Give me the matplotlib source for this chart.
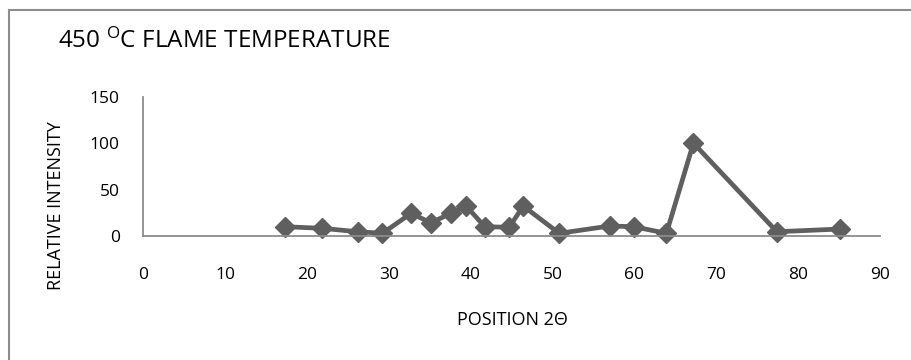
import numpy as np
import matplotlib
matplotlib.use("Agg")
import matplotlib.pyplot as plt
from matplotlib.lines import Line2D

# values
position = [17.3, 21.8, 26.2, 29.2, 32.7, 35.1, 37.6, 39.4, 41.7, 44.7,
            46.4, 50.8, 57.0, 59.9, 63.9, 67.2, 77.4, 85.1]
intensity = [10, 8.3, 4.6, 2.9, 24.4, 14.3, 24.4, 32.6, 10, 9.4,
             32.3, 2.9, 10.8, 10, 2.9, 100, 4.6, 7.5]
x_ticks = [0, 10, 20, 30, 40, 50, 60, 70, 80, 90]
y_ticks = [0, 50, 100, 150]

plt.rcParams['font.family'] = ['Open Sans', 'DejaVu Sans']
plt.rcParams['mathtext.fontset'] = 'custom'
plt.rcParams['mathtext.rm'] = 'Open Sans'

W, H = 912, 360
fig = plt.figure(figsize=(W / 100, H / 100), dpi=100)
ax = fig.add_axes([143.5 / W, 1 - 236 / H, (880 - 143.5) / W, (236 - 96.7) / H])

grey = '#5f5f5f'
ax.plot(position, intensity, color=grey, lw=3.4, marker='D', ms=10,
        mfc=grey, mec=grey, mew=1, solid_joinstyle='miter', clip_on=False)

ax.set_xlim(0, 90)
ax.set_ylim(0, 150)
ax.set_xticks(x_ticks)
ax.set_yticks(y_ticks)
ax.tick_params(length=0, labelsize=12.5, colors='black')
ax.tick_params(axis='x', pad=22)
ax.tick_params(axis='y', pad=17)
for s in ['top', 'right']:
    ax.spines[s].set_visible(False)
for s in ['left', 'bottom']:
    ax.spines[s].set_color('#8c8c8c')
    ax.spines[s].set_linewidth(1.3)

fig.text(58 / W, 1 - 48 / H, r'450 $\mathregular{^{O}}$C FLAME TEMPERATURE',
         fontsize=17.5, ha='left', va='baseline')
fig.text(56 / W, 1 - 206 / H, 'RELATIVE INTENSITY', rotation=90,
         fontsize=13, ha='center', va='center')
fig.text(512 / W, 1 - 320 / H, 'POSITION 2Θ', fontsize=13,
         ha='center', va='center')

# chart area border (only left and top edges fall inside the picture)
fig.add_artist(Line2D([9.5 / W, 9.5 / W], [0, 1 - 9.5 / H], color='#8c8c8c',
                      lw=1.5, transform=fig.transFigure))
fig.add_artist(Line2D([9.5 / W, 1], [1 - 9.5 / H, 1 - 9.5 / H], color='#8c8c8c',
                      lw=1.5, transform=fig.transFigure))

fig.savefig('out.png', dpi=100)
